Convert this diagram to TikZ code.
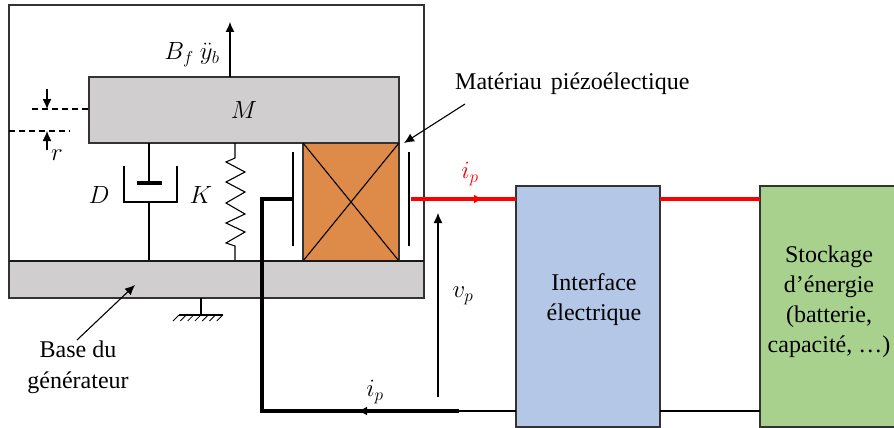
\documentclass[tikz,border=0pt]{standalone}
\usepackage{amsmath}
\usepackage{fontspec}
\setmainfont{Liberation Serif}
\usepackage{tikz}
\usetikzlibrary{arrows.meta,calc}
\definecolor{graybox}{HTML}{D0CECE}
\definecolor{orangepiezo}{HTML}{DE8A48}
\definecolor{bluebox}{HTML}{B4C7E7}
\definecolor{greenbox}{HTML}{A9D18E}

\begin{document}
\begin{tikzpicture}[
x=1pt, y=-1pt,
block/.style={rectangle, draw=black!80, line width=1.2pt, inner sep=0pt, outer sep=0pt},
grayblock/.style={block, fill=graybox},
textlabel/.style={inner sep=0pt, font=\fontsize{24}{28}\selectfont},
mathlabel/.style={inner sep=0pt, font=\fontsize{25}{30}\selectfont},
thinline/.style={line width=1.1pt},
dashline/.style={thinline, dash pattern=on 6pt off 4pt},
wire/.style={line width=3.2pt},
wirered/.style={line width=3.2pt, red},
arrowline/.style={thinline, -{Latex[length=10pt, width=9pt]}},
]
\useasboundingbox (0,0) rectangle (894,428);
%Nodes
\node[block, fill=white, minimum width=415pt, minimum height=256pt] (frame) at (216.5,133) {};
\node[grayblock, minimum width=415pt, minimum height=37pt] (base) at (216.5,279.5) {};
\node[grayblock, minimum width=310pt, minimum height=66pt] (mass) at (244,110) {};
\node[block, fill=orangepiezo, minimum width=96pt, minimum height=118pt] (piezo) at (351,202) {};
\node[block, fill=bluebox, minimum width=144pt, minimum height=241pt] (iface) at (588,306.5) {};
\node[block, fill=greenbox, minimum width=137pt, minimum height=241pt] (store) at (828.5,306.5) {};
\node[mathlabel] (mlabel) at (244,110) {$M$};
\node[mathlabel] (flabel) at (192,55) {$B_f\ \ddot{y}_b$};
\node[mathlabel] (dlabel) at (99,195) {$D$};
\node[mathlabel] (klabel) at (201,195) {$K$};
\node[mathlabel] (rlabel) at (57,155) {$r$};
\node[mathlabel, red] (iplabel) at (470,174) {$i_p$};
\node[mathlabel] (vplabel) at (463,296) {$v_p$};
\node[mathlabel] (inlabel) at (375,392) {$i_p$};
\node[textlabel, anchor=west] (piezolabel) at (455,84) {Matériau\hspace{3pt} piézoélectique};
\node[textlabel, align=center] (baselabel) at (78,367) {Base du\\[3pt]générateur};
\node[textlabel, align=center] (ifacelabel) at (594,300) {Interface\\[2pt]électrique};
\node[textlabel, align=center] (storelabel) at (829,302) {Stockage\\[2pt]d’énergie\\[2pt](batterie,\\[2pt]capacité, …)};
%Points
\coordinate (ftop)   at (230,22);
\coordinate (fbot)   at (230,77);
\coordinate (da)     at (32,109);
\coordinate (db)     at (89,109);
\coordinate (dc)     at (9,131);
\coordinate (dd)     at (70,131);
\coordinate (ra)     at (47,89);
\coordinate (rb)     at (47,109);
\coordinate (rc)     at (47,150);
\coordinate (rd)     at (47,131);
\coordinate (dtop)   at (149,143);
\coordinate (dpiston) at (149,183);
\coordinate (pa)     at (137,183);
\coordinate (pb)     at (162,183);
\coordinate (cupa)   at (124,166);
\coordinate (cupb)   at (124,202);
\coordinate (cupc)   at (177,202);
\coordinate (cupd)   at (177,166);
\coordinate (dmid)   at (149,202);
\coordinate (dbot)   at (149,261);
\coordinate (ktop)   at (235,143);
\coordinate (kbot)   at (235,261);
\coordinate (ela)    at (293,152);
\coordinate (elb)    at (293,246);
\coordinate (era)    at (409,152);
\coordinate (erb)    at (409,246);
\coordinate (wa)     at (292,199);
\coordinate (wb)     at (262,199);
\coordinate (wc)     at (262,411);
\coordinate (wd)     at (459,411);
\coordinate (we)     at (516,411);
\coordinate (wf)     at (660,411);
\coordinate (wg)     at (760,411);
\coordinate (wh)     at (358,411);
\coordinate (ra1)    at (411,199);
\coordinate (ra2)    at (483,199);
\coordinate (ra3)    at (516,199);
\coordinate (rb1)    at (660,199);
\coordinate (rb2)    at (760,199);
\coordinate (va)     at (438,397);
\coordinate (vb)     at (438,213);
\coordinate (ga)     at (201,298);
\coordinate (gb)     at (201,315);
\coordinate (gc)     at (179,315);
\coordinate (gd)     at (223,315);
\coordinate (ba)     at (77,340);
\coordinate (bb)     at (135,285);
\coordinate (ma)     at (465,104);
\coordinate (mb)     at (404,143);
%Lines
\draw[arrowline] (fbot) -- (ftop);
\draw[dashline] (da) -- (db);
\draw[dashline] (dc) -- (dd);
\draw[arrowline] (ra) -- (rb);
\draw[arrowline] (rc) -- (rd);
\draw[thinline] (dtop) -- (dpiston);
\draw[wire] (pa) -- (pb);
\draw[thinline] (cupa) -- (cupb) -- (cupc) -- (cupd);
\draw[thinline] (dmid) -- (dbot);
\draw[thinline] (ktop) -- (235,158) -- (226,162) -- (245,172) -- (226,182) -- (245,192)
  -- (226,203) -- (245,214) -- (226,223) -- (245,232) -- (226,243) -- (235,246) -- (kbot);
\draw[thinline] (piezo.north west) -- (piezo.south east);
\draw[thinline] (piezo.north east) -- (piezo.south west);
\draw[thinline] (ela) -- (elb);
\draw[thinline] (era) -- (erb);
\draw[line width=2pt, black!90] (frame.south west) -- (frame.south east);
\draw[wire] (wa) -- (wb) -- (wc) -- (wd);
\draw[line width=2.2pt] (wd) -- (we);
\draw[line width=2.6pt] (wf) -- (wg);
\draw[wire, -{Latex[length=9pt, width=9pt]}] (wd) -- (wh);
\draw[wirered] (ra1) -- (ra3);
\draw[wirered, -{Latex[length=9pt, width=9pt]}] (ra1) -- (ra2);
\draw[wirered] (rb1) -- (rb2);
\draw[arrowline] (va) -- (vb);
\draw[thinline] (ga) -- (gb);
\draw[thinline] (gc) -- (gd);
\foreach \i in {0,...,6}
  \draw[line width=0.8pt] ($(gc)+(\i*7.3,0)$) -- ++(-6,6);
\draw[arrowline] (ba) -- (bb);
\draw[arrowline] (ma) -- (mb);
\end{tikzpicture}
\end{document}
